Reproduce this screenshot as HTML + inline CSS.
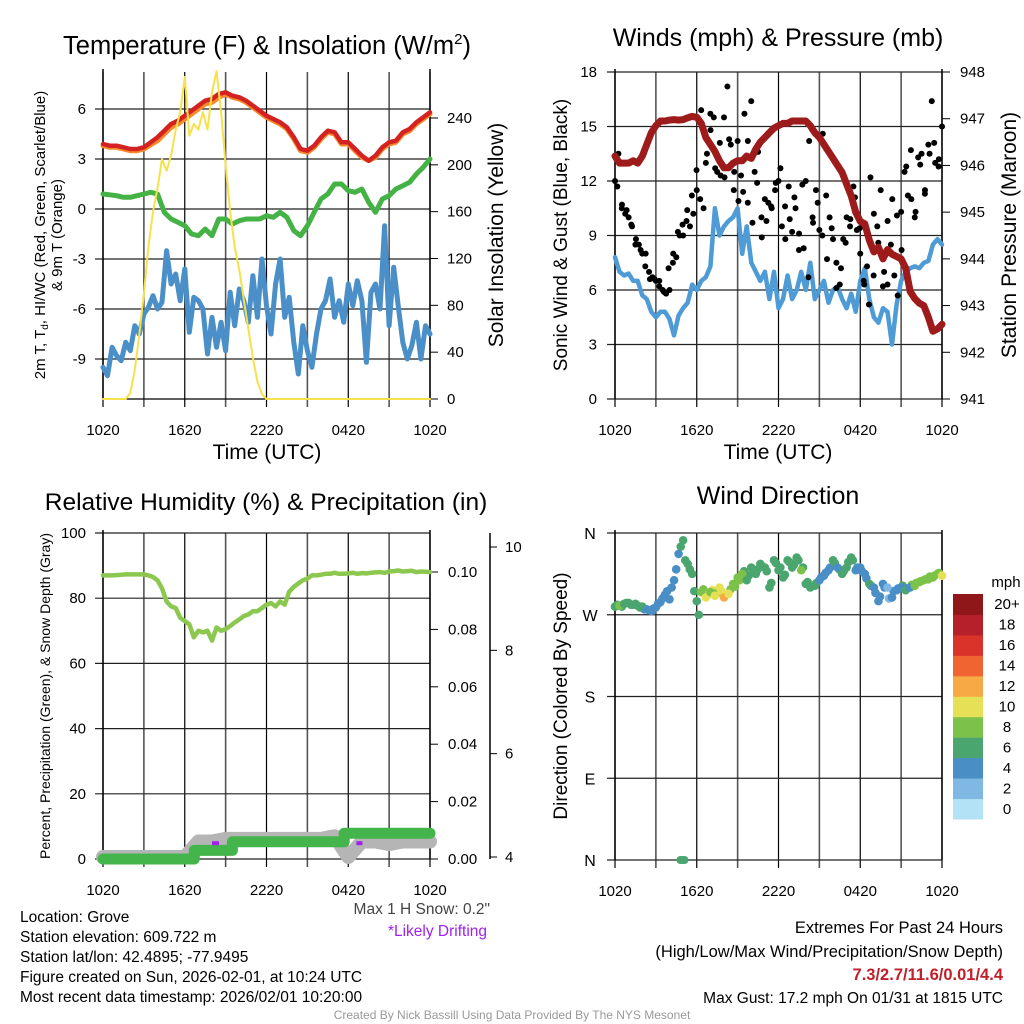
<!DOCTYPE html>
<html><head><meta charset="utf-8"><style>
html,body{margin:0;padding:0;background:#fff}
svg{display:block;font-family:"Liberation Sans",sans-serif}
</style></head><body>
<svg id="fig" width="1024" height="1024" viewBox="0 0 1024 1024" xmlns="http://www.w3.org/2000/svg">
<rect width="1024" height="1024" fill="#fff"/>
<g id="g"></g>
<text x="267" y="54" font-size="25.5" text-anchor="middle">Temperature (F) &amp; Insolation (W/m<tspan dy="-10" font-size="15">2</tspan><tspan dy="10">)</tspan></text>
<text x="778" y="46" font-size="25" text-anchor="middle">Winds (mph) &amp; Pressure (mb)</text>
<text x="266" y="510" font-size="24.5" text-anchor="middle">Relative Humidity (%) &amp; Precipitation (in)</text>
<text x="778" y="504" font-size="25" text-anchor="middle">Wind Direction</text>

<text font-size="15" text-anchor="middle" transform="translate(45,235) rotate(-90)">2m T, T<tspan font-size="10" dy="3">d</tspan><tspan dy="-3">, HI/WC (Red, Green, Scarlet/Blue)</tspan></text>
<text font-size="15" text-anchor="middle" transform="translate(62,235) rotate(-90)">&amp; 9m T (Orange)</text>
<text font-size="21" text-anchor="middle" transform="translate(503,235) rotate(-90)">Solar Insolation (Yellow)</text>
<text font-size="19" text-anchor="middle" transform="translate(567,235) rotate(-90)">Sonic Wind &amp; Gust (Blue, Black)</text>
<text font-size="21" text-anchor="middle" transform="translate(1016,235) rotate(-90)">Station Pressure (Maroon)</text>
<text font-size="14" text-anchor="middle" transform="translate(50,696) rotate(-90)">Percent, Precipitation (Green), &amp; Snow Depth (Gray)</text>
<text font-size="19" text-anchor="middle" transform="translate(567,696) rotate(-90)">Direction (Colored By Speed)</text>
<text x="267" y="459" font-size="21" text-anchor="middle">Time (UTC)</text>
<text x="778" y="459" font-size="21" text-anchor="middle">Time (UTC)</text>

<text x="490" y="914" font-size="15.5" fill="#444" text-anchor="end">Max 1 H Snow: 0.2"</text>
<text x="487" y="936" font-size="15.5" fill="#a020f0" text-anchor="end">*Likely Drifting</text>
<g font-size="15.5">
<text x="20" y="922">Location: Grove</text>
<text x="20" y="942">Station elevation: 609.722 m</text>
<text x="20" y="962">Station lat/lon: 42.4895; -77.9495</text>
<text x="20" y="982">Figure created on Sun, 2026-02-01, at 10:24 UTC</text>
<text x="20" y="1002">Most recent data timestamp: 2026/02/01 10:20:00</text>
</g>
<g font-size="16.5" text-anchor="end">
<text x="1003" y="933">Extremes For Past 24 Hours</text>
<text x="1003" y="957">(High/Low/Max Wind/Precipitation/Snow Depth)</text>
<text x="1003" y="980" fill="#c0202a" font-weight="bold">7.3/2.7/11.6/0.01/4.4</text>
<text x="1003" y="1003" font-size="15.5">Max Gust: 17.2 mph On 01/31 at 1815 UTC</text>
</g>
<text x="512" y="1019" font-size="12" fill="#999" text-anchor="middle">Created By Nick Bassill Using Data Provided By The NYS Mesonet</text>
</svg>
<script>
const timeLabels=["1020","1620","2220","0420","1020"];
const tempTicks=[-9,-6,-3,0,3,6];
const solarTicks=[0,40,80,120,160,200,240];
const windTicks=[0,3,6,9,12,15,18];
const presTicks=[941,942,943,944,945,946,947,948];
const rhTicks=[0,20,40,60,80,100];
const precipTicks=["0.00","0.02","0.04","0.06","0.08","0.10"];
const snowTicks=[4,6,8,10];
const dirLabels=["N","E","S","W","N"];
const cbLabels=["0","2","4","6","8","10","12","14","16","18","20+"];
const cbColors=["#b3e2f7","#7fb9e3","#4a8ec6","#4aa56f","#7cc24a","#e5e055","#f6a945","#ef6430","#d9332a","#b5202b","#8f1719"];

const tempRed=[3.9,3.8,3.8,3.7,3.6,3.6,3.7,4.0,4.3,4.7,5.1,5.3,5.6,5.9,6.2,6.5,6.6,6.9,7.0,6.8,6.7,6.5,6.2,5.9,5.6,5.4,5.2,4.9,4.3,3.6,3.5,3.8,4.3,4.7,4.6,4.0,4.0,3.6,3.2,2.9,3.2,3.7,4.0,4.1,4.6,4.8,5.2,5.5,5.8];
const temp9m=[3.8,3.7,3.7,3.6,3.5,3.5,3.6,3.85,4.1,4.5,4.9,5.1,5.4,5.7,6.0,6.3,6.4,6.7,6.9,6.7,6.6,6.4,6.1,5.8,5.5,5.3,5.1,4.8,4.2,3.5,3.4,3.7,4.2,4.6,4.5,3.9,3.9,3.5,3.1,2.9,3.1,3.6,3.9,4.0,4.5,4.7,5.1,5.4,5.7];
const tempGreen=[0.9,0.85,0.8,0.7,0.7,0.8,0.9,1.0,0.9,-0.2,-0.6,-0.8,-1.0,-1.5,-1.6,-1.2,-1.6,-0.6,-0.6,-0.9,-0.7,-0.6,-0.6,-0.6,-0.4,-0.5,-0.2,-0.5,-1.3,-1.6,-1.0,-0.2,0.6,0.9,1.5,1.5,1.1,1.0,1.2,0.4,-0.2,0.6,0.8,1.2,1.4,1.6,2.1,2.5,3.0];
const tempBlue=[-9.5,-10.0,-8.3,-8.8,-9.1,-8.0,-8.5,-7.0,-7.5,-6.3,-5.9,-5.2,-6.0,-5.6,-2.5,-4.5,-3.9,-5.5,-3.6,-7.4,-5.3,-5.5,-6.0,-8.7,-6.5,-8.3,-6.8,-8.5,-5.0,-7.0,-4.8,-5.5,-6.8,-4.0,-6.5,-3.0,-5.8,-7.5,-4.5,-3.0,-6.5,-5.3,-8.0,-9.9,-7.0,-8.5,-9.5,-7.5,-6.0,-5.5,-4.2,-6.5,-5.5,-6.8,-4.5,-5.8,-4.3,-5.5,-9.2,-5.0,-4.5,-6.0,-1.0,-7.0,-3.5,-5.8,-8.0,-9.0,-8.2,-6.8,-9.0,-7.0,-7.5];
const solar=[0,0,0,0,0,0,5,25,55,90,130,160,180,205,195,208,230,245,275,225,235,230,245,230,262,280,245,200,160,130,110,85,60,35,15,4,0,0,0,0,0,0,0,0,0,0,0,0,0,0,0,0,0,0,0,0,0,0,0,0,0,0,0,0,0,0,0,0,0,0,0,0,0];
const windSpeed=[7.8,7.0,6.8,6.9,6.5,6.5,5.7,5.5,4.8,4.5,4.8,4.8,4.4,3.5,4.6,5.0,5.3,6.3,6.0,6.5,6.7,7.3,10.5,9.0,9.5,9.8,10.0,10.5,8.0,9.5,7.5,7.0,6.5,7.0,5.5,7.0,5.0,5.5,6.8,5.5,6.0,7.0,6.0,7.5,5.5,6.0,6.5,5.3,6.0,6.2,5.5,5.0,5.8,4.8,6.5,7.2,5.5,4.5,4.2,5.0,4.8,3.0,5.2,6.5,7.0,7.2,7.3,7.2,7.5,7.6,8.5,8.8,8.5];
const pressure=[946.2,946.05,946.05,946.05,946.1,946.05,946.2,946.45,946.7,946.85,946.95,946.95,946.97,946.98,946.97,946.98,947.02,947.05,947.03,946.9,946.6,946.45,946.3,946.1,945.95,945.95,946.05,946.1,946.1,946.2,946.15,946.35,946.5,946.6,946.7,946.8,946.85,946.9,946.9,946.95,946.95,946.95,946.95,946.85,946.7,946.6,946.45,946.3,946.15,946.0,945.85,945.6,945.35,945.0,944.8,944.75,944.4,944.15,944.25,944.0,944.2,944.1,944.05,944.0,943.8,943.3,943.15,943.05,943.0,942.75,942.45,942.5,942.6];
const gust=[12,13.5,10.5,10.2,10,9.5,8.5,8.5,8,8,7,6.7,6.5,6.5,6,5.8,6,7.5,7.8,9,9,9.8,9.5,10.2,11.5,11,10.5,13.5,15.7,15.5,12.5,12.3,15.5,17.2,14,12.5,14.2,12.3,15.7,14.2,16.4,12.5,13.6,10,11,10.8,10.5,11.5,12,9.5,8.8,11.7,9.2,10.5,8.2,11.8,12,14.2,10,11.5,9.3,14.6,11.2,10,8.8,7.5,6.3,8.8,10,9.5,11.7,9.3,8,6.5,7.3,12.2,10.2,9.5,11.5,7,6.3,8.5,6.8,5.7,10.3,12.5,11.2,11,10,13.3,13.5,11.5,14,16.4,13,12.8,15];
const gust2=[11.7,10.7,10.4,9.6,8.8,8.2,7.3,6.6,6.6,6.2,5.9,7.2,8.0,9.2,9.6,10.4,11.2,12.6,15.9,13.0,14.8,12.7,14.1,12.2,14.3,11.5,10.9,11.4,10.8,9.7,11.9,8.9,9.8,10.6,11.9,12.7,10.6,9.9,11.1,9.1,8.3,6.7,9.7,10.8,9.0,7.7,9.4,6.1,7.2,8.6,9.9,11.1,9.4,6.3,5.2,6.8,8.6,6.2,9.8,11.0,10.1,8.2,12.8,13.7,10.3,12.9,11.3,13.5,14.1,13.2];
const rh=[87,87,87,87.1,87.2,87.3,87.3,87.3,87.3,87.3,87,86.5,85.5,83,79,77.5,77,74,73,72,68,70,69.5,70,67,71,70,70.5,71.5,72.5,73.5,74.5,75,76,76,77,78,78.5,77.5,79,78,82,83.5,84.5,85.5,86,87,87,87.2,87.5,87.5,87.8,87.5,87.5,87.6,87.8,87.5,87.7,87.6,87.8,87.9,88,87.8,88.2,88.3,88.5,88.2,88.3,88.4,88,88.2,88.1,88];
const precipTimes=[0,6.7,6.7,9.5,9.5,17.7,17.7,24];
const precip=[0,0,0.003,0.003,0.006,0.006,0.009,0.009];
const snowDepth=[4.0,4.0,4.0,4.0,4.0,4.0,4.0,4.3,4.3,4.35,4.35,4.35,4.35,4.35,4.35,4.35,4.35,4.4,4.0,4.3,4.3,4.25,4.3,4.3,4.3];
const windDir=[279,280,282,283,281,280,279,276,274,278,284,292,287,308,337,352,326,315,285,295,289,295,291,300,289,293,304,311,315,308,322,315,326,322,300,330,319,311,330,322,333,319,304,300,302,308,313,319,330,322,315,322,333,319,322,315,304,300,285,304,300,289,297,300,297,300,302,306,308,309,311,315,313];
const dirSpeed=[7,8,7,6,7,6,6,5,4,4,5,4,4,4,4,6,6,6,7,9,10,9,10,10,12,10,8,9,8,7,6,7,6,7,6,6,7,6,6,7,6,8,7,6,7,5,4,5,6,5,7,6,7,4,5,4,6,4,4,5,2,4,4,5,6,4,8,8,9,8,8,9,10];
const windDir2=[281,279,283,281,282,278,276,275,277,282,288,296,300,320,345,330,320,296,270,298,292,297,294,296,292,298,301,308,318,313,318,320,323,318,305,327,322,314,328,325,330,322,306,302,305,311,316,322,327,320,318,328,330,322,318,310,302,294,290,300,288,296,299,302,299,303,305,307,309,312,313,316];
const dirSpeed2=[7,7,6,6,7,6,5,4,4,5,4,4,4,4,6,6,6,6,7,8,10,10,9,11,11,9,8,8,7,7,6,7,7,6,6,7,6,7,6,6,7,7,6,7,6,4,5,5,6,6,7,6,6,5,4,5,4,4,5,4,2,4,5,6,5,8,8,8,8,9,8,9];
const calmTimes=[4.8,4.95,5.1];
const calmDir=[0,0,0];

const NS="http://www.w3.org/2000/svg";
const G=document.getElementById('g');
function mk(tag,attrs,parent){const e=document.createElementNS(NS,tag);for(const k in attrs)e.setAttribute(k,attrs[k]);(parent||G).appendChild(e);return e;}
function txt(x,y,s,size,anchor,parent){const e=mk('text',{x:x,y:y,'font-size':size,'text-anchor':anchor},parent);e.textContent=s;return e;}
function lin(d0,d1,r0,r1){return v=>r0+(v-d0)/(d1-d0)*(r1-r0);}
function tOf(i,n){return i*24/(n-1);}

function panel(name,x0,x1,y0,y1){
  const g=mk('g',{});
  
  
  const X=lin(0,24,x0,x1);
  for(let h=0;h<=24;h+=3){
    const l=mk('line',{x1:X(h),x2:X(h),y1:y0,y2:y1+8,stroke:(h%6==0?'#000':'#555'),'stroke-width':(h%6==0?1.2:1.6)},g);
    
    
  }
  timeLabels.forEach((s,i)=>{const t=txt(X(i*6),y1+36,s,15,'middle',g);
    
    });
  return {g,X};
}
function hgrid(g,y,x0,x1){const l=mk('line',{x1:x0-8,x2:x1,y1:y,y2:y,stroke:'#222','stroke-width':1.2},g);
  
  }
function path(g,xs,ys,attrs,name){let d='';xs.forEach((x,i)=>{d+=(i?'L':'M')+x.toFixed(1)+','+ys[i].toFixed(1);});
  const p=mk('path',Object.assign({d:d,fill:'none','stroke-linejoin':'round','stroke-linecap':'round'},attrs),g);
  
  
  return p;}

// ---- Temperature panel
{
 const x0=103,x1=430,y0=72,y1=399;
 const {g,X}=panel('temperature-chart',x0,x1,y0,y1);
 const Y=lin(0,6,209,109);
 const YS=lin(0,240,399,118);
 tempTicks.forEach(v=>{hgrid(g,Y(v),x0,x1);const t=txt(86,Y(v)+5,String(v),15,'end',g);
   
   });
 solarTicks.forEach(v=>{mk('line',{x1:x1,x2:x1+8,y1:YS(v),y2:YS(v),stroke:'#000'},g);const t=txt(447,YS(v)+5,String(v),15,'start',g);
   
   });
 mk('line',{x1:x0,x2:x1,y1:y1,y2:y1,stroke:'#000','stroke-width':1.2},g);
 mk('line',{x1:x0,x2:x0,y1:y0-3,y2:y1,stroke:'#000','stroke-width':1.5},g);
 mk('line',{x1:x1,x2:x1,y1:y0-3,y2:y1,stroke:'#000','stroke-width':1.5},g);
 path(g,tempBlue.map((v,i)=>X(tOf(i,tempBlue.length))),tempBlue.map(Y),{stroke:'#4a8fc8','stroke-width':5},'dewpoint-line');
 path(g,tempGreen.map((v,i)=>X(tOf(i,tempGreen.length))),tempGreen.map(Y),{stroke:'#44b244','stroke-width':5},'windchill-line');
 path(g,temp9m.map((v,i)=>X(tOf(i,temp9m.length))),temp9m.map(Y),{stroke:'#f58a2a','stroke-width':5},'temp-9m-line');
 path(g,tempRed.map((v,i)=>X(tOf(i,tempRed.length))),tempRed.map(Y),{stroke:'#d42222','stroke-width':4.5},'temp-2m-line');
 path(g,solar.map((v,i)=>X(tOf(i,solar.length))),solar.map(YS),{stroke:'#f7e14a','stroke-width':2},'solar-line');
}
// ---- Wind panel
{
 const x0=615,x1=942,y0=72,y1=399;
 const {g,X}=panel('wind-chart',x0,x1,y0,y1);
 const Y=lin(0,18,399,72);
 const YP=lin(941,948,399,72);
 windTicks.forEach(v=>{hgrid(g,Y(v),x0,x1);const t=txt(597,Y(v)+5,String(v),15,'end',g);
   
   });
 presTicks.forEach(v=>{mk('line',{x1:x1,x2:x1+8,y1:YP(v),y2:YP(v),stroke:'#000'},g);const t=txt(960,YP(v)+5,String(v),15,'start',g);
   
   });
 mk('line',{x1:x0,x2:x0,y1:y0-3,y2:y1,stroke:'#000','stroke-width':1.5},g);
 mk('line',{x1:x1,x2:x1,y1:y0-3,y2:y1,stroke:'#000','stroke-width':1.5},g);
 path(g,windSpeed.map((v,i)=>X(tOf(i,windSpeed.length))),windSpeed.map(Y),{stroke:'#4f9bd6','stroke-width':4.5},'sonic-wind-line');
 gust.forEach((v,i)=>{const c=mk('circle',{cx:X(tOf(i,gust.length)),cy:Y(v),r:3,fill:'#000'},g);
   
   });
 gust2.forEach((v,i)=>{const c=mk('circle',{cx:X(0.17+tOf(i,gust2.length)*23.6/24),cy:Y(v),r:3,fill:'#000'},g);
   
   });
 path(g,pressure.map((v,i)=>X(tOf(i,pressure.length))),pressure.map(YP),{stroke:'#9e1b1b','stroke-width':7},'pressure-line');
}
// ---- RH panel
{
 const x0=103,x1=430,y0=533,y1=859;
 const {g,X}=panel('humidity-chart',x0,x1,y0,y1);
 const Y=lin(0,100,859,533);
 const YP=lin(0,0.1,859,572);
 const YSn=lin(4,10,857,547);
 rhTicks.forEach(v=>{hgrid(g,Y(v),x0,x1);const t=txt(86,Y(v)+5,String(v),15,'end',g);
   
   });
 precipTicks.forEach(s=>{const v=parseFloat(s);mk('line',{x1:x1,x2:x1+8,y1:YP(v),y2:YP(v),stroke:'#000'},g);const t=txt(448,YP(v)+5,s,15,'start',g);
   
   });
 const sa=mk('line',{x1:490,x2:490,y1:533,y2:859,stroke:'#000','stroke-width':1.5},g);
 
 
 snowTicks.forEach(v=>{mk('line',{x1:490,x2:497,y1:YSn(v),y2:YSn(v),stroke:'#000'},g);const t=txt(505,YSn(v)+5,String(v),15,'start',g);
   
   });
 mk('line',{x1:x0,x2:x0,y1:y0-3,y2:y1,stroke:'#000','stroke-width':1.5},g);
 mk('line',{x1:x1,x2:x1,y1:y0-3,y2:y1,stroke:'#000','stroke-width':1.5},g);
 path(g,snowDepth.map((v,i)=>X(tOf(i,snowDepth.length))),snowDepth.map(YSn),{stroke:'#b5b5b5','stroke-width':14},'snow-depth-line');
 path(g,precipTimes.map(X),precip.map(YP),{stroke:'#44b54a','stroke-width':11,'stroke-linejoin':'round'},'precip-line');
 path(g,rh.map((v,i)=>X(tOf(i,rh.length))),rh.map(Y),{stroke:'#8cc850','stroke-width':4.5},'rh-line');
 const m1=mk('rect',{x:X(8.0),y:YP(0.0055)-2,width:7,height:4,fill:'#a020f0'},g);
 
 
 const m2=mk('rect',{x:X(18.6),y:YP(0.0055)-2,width:6,height:4,fill:'#a020f0'},g);
 
 
}
// ---- Direction panel
{
 const x0=615,x1=942,y0=533,y1=860;
 const {g,X}=panel('wind-direction-chart',x0,x1,y0,y1);
 const Y=lin(0,360,860,533);
 dirLabels.forEach((s,i)=>{hgrid(g,Y(i*90),x0,x1);const t=txt(590,Y(i*90)+6,s,16,'middle',g);
   
   });
 mk('line',{x1:x0,x2:x0,y1:y0-3,y2:y1,stroke:'#000','stroke-width':1.5},g);
 mk('line',{x1:x1,x2:x1,y1:y0-3,y2:y1,stroke:'#000','stroke-width':1.5},g);
 const col=s=>cbColors[Math.min(10,Math.max(0,Math.floor(s/2)))];
 windDir2.forEach((v,i)=>{const c=mk('circle',{cx:X(0.17+tOf(i,windDir2.length)*23.6/24),cy:Y(v),r:4.3,fill:col(dirSpeed2[i])},g);
   
   });
 windDir.forEach((v,i)=>{const c=mk('circle',{cx:X(tOf(i,windDir.length)),cy:Y(v),r:4.3,fill:col(dirSpeed[i])},g);
   
   });
 calmTimes.forEach((t,i)=>{const c=mk('circle',{cx:X(t),cy:Y(calmDir[i]),r:4,fill:'#4aa56f'},g);
   
   });
 const cb=mk('g',{},g);
 
 
 const bh=(819-594)/cbColors.length;
 cbColors.forEach((c,i)=>{const r=mk('rect',{x:953,y:819-(i+1)*bh,width:30,height:bh+0.5,fill:c},cb);
   
   
   const t=txt(1007,819-(i+0.5)*bh+5,cbLabels[i],15,'middle',cb);
   
   });
 const u=txt(1006,587,'mph',15,'middle',cb);
 
 
}
</script>
</body></html>
